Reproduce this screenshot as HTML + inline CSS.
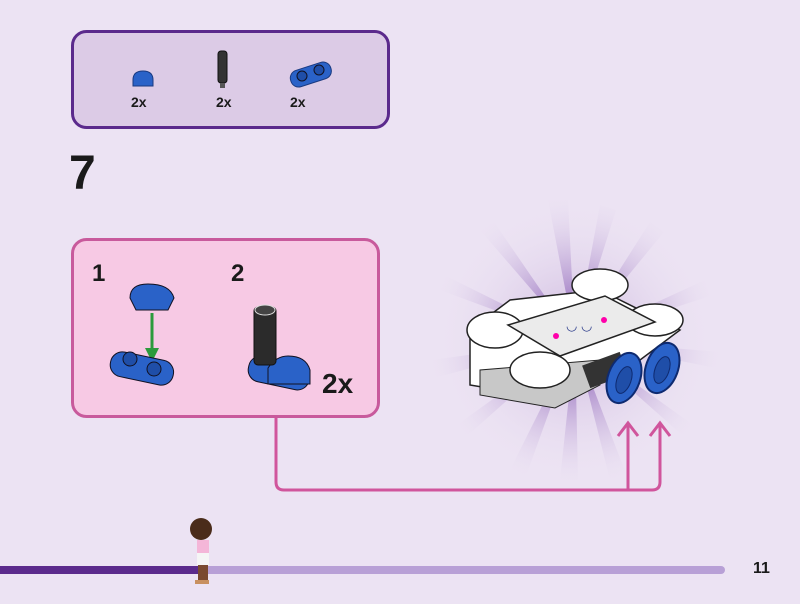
<!DOCTYPE html>
<html><head><style>
body{margin:0;width:800px;height:604px;background:#ece3f3;position:relative;overflow:hidden;font-family:"Liberation Sans",sans-serif;}
.t{position:absolute;font-weight:bold;color:#1a1a1a;}
</style></head><body>
<svg width="800" height="604" style="position:absolute;left:0;top:0">
<defs>
<radialGradient id="g" cx="0.5" cy="0.5" r="0.5">
<stop offset="0" stop-color="#b89ad0" stop-opacity="0.7"/>
<stop offset="1" stop-color="#ece3f3" stop-opacity="0"/>
</radialGradient>
<radialGradient id="r" cx="575" cy="340" r="150" gradientUnits="userSpaceOnUse">
<stop offset="0.3" stop-color="#a07cc4" stop-opacity="0.8"/>
<stop offset="1" stop-color="#ece3f3" stop-opacity="0"/>
</radialGradient>
</defs>
<!-- parts box -->
<rect x="72.5" y="31.5" width="316" height="96" rx="14" fill="#dccbe6" stroke="#5b2a8c" stroke-width="3"/>
<path d="M133 80 q0-9 10-9 q10 0 10 9 v6 h-20z" fill="#2a62c8" stroke="#1a3a80"/>
<rect x="218" y="51" width="9" height="32" rx="3" fill="#333" stroke="#111"/>
<rect x="220" y="83" width="5" height="5" fill="#555"/>
<rect x="290" y="66" width="42" height="17" rx="8" fill="#2a62c8" stroke="#1a3a80" transform="rotate(-18 311 75)"/>
<circle cx="302" cy="76" r="5" fill="#1f4ea8" stroke="#112"/><circle cx="319" cy="70" r="5" fill="#1f4ea8" stroke="#112"/>
<!-- pink box -->
<rect x="72.5" y="239.5" width="306" height="177" rx="14" fill="#f7c9e4" stroke="#c85a9c" stroke-width="3"/>
<path d="M130 298 q0-14 18-14 q22 0 26 14 l-6 12 h-32z" fill="#2a62c8" stroke="#112"/>
<line x1="152" y1="313" x2="152" y2="352" stroke="#2c9a3c" stroke-width="3"/>
<path d="M145 348 L152 362 L159 348z" fill="#2c9a3c"/>
<rect x="110" y="356" width="64" height="25" rx="12" fill="#2a62c8" stroke="#112" transform="rotate(12 142 368)"/>
<circle cx="130" cy="359" r="7" fill="#1f4ea8" stroke="#112"/><circle cx="154" cy="369" r="7" fill="#1f4ea8" stroke="#112"/>
<rect x="248" y="360" width="62" height="26" rx="12" fill="#2a62c8" stroke="#112" transform="rotate(12 279 373)"/>
<path d="M268 368 q8-12 20-12 q18 0 22 14 v14 h-42z" fill="#2a62c8" stroke="#112"/>
<rect x="254" y="307" width="22" height="58" rx="4" fill="#2b2b2b" stroke="#111"/>
<ellipse cx="265" cy="310" rx="10" ry="5" fill="#444" stroke="#ddd"/>
<!-- burst -->
<circle cx="575" cy="340" r="140" fill="url(#g)"/>
<g fill="url(#r)">
<path d="M575 340 L548 200 L568 200z"/>
<path d="M575 340 L600 205 L616 210z"/>
<path d="M575 340 L650 222 L664 232z"/>
<path d="M575 340 L705 280 L710 296z"/>
<path d="M575 340 L720 352 L716 368z"/>
<path d="M575 340 L700 430 L690 442z"/>
<path d="M575 340 L560 480 L578 480z"/>
<path d="M575 340 L510 470 L526 476z"/>
<path d="M575 340 L450 430 L458 444z"/>
<path d="M575 340 L432 360 L434 378z"/>
<path d="M575 340 L440 290 L446 276z"/>
<path d="M575 340 L480 230 L494 222z"/>
<path d="M575 340 L610 480 L626 474z"/>
</g>
<!-- model -->
<path d="M470 330 L470 385 L560 400 L640 360 L680 330 L600 290 L510 300z" fill="#fff" stroke="#222" stroke-width="1.5"/>
<path d="M480 370 L480 395 L555 408 L600 385 L600 360z" fill="#c8c8c8" stroke="#222"/>
<ellipse cx="495" cy="330" rx="28" ry="18" fill="#fff" stroke="#222" stroke-width="1.5"/>
<ellipse cx="600" cy="285" rx="28" ry="16" fill="#fff" stroke="#222" stroke-width="1.5"/>
<ellipse cx="655" cy="320" rx="28" ry="16" fill="#fff" stroke="#222" stroke-width="1.5"/>
<ellipse cx="540" cy="370" rx="30" ry="18" fill="#fff" stroke="#222" stroke-width="1.5"/>
<path d="M508 325 L605 296 L655 322 L560 356z" fill="#ebebeb" stroke="#222" stroke-width="1.5"/>
<text x="566" y="330" font-size="13" fill="#2a3a8a" font-family="Liberation Sans">◡ ◡</text>
<circle cx="556" cy="336" r="3" fill="#f0a"/><circle cx="604" cy="320" r="3" fill="#f0a"/>
<rect x="585" y="358" width="40" height="24" fill="#333" transform="rotate(-20 605 370)"/>
<ellipse cx="624" cy="378" rx="16" ry="26" fill="#2a62c8" stroke="#0e2a70" stroke-width="2" transform="rotate(20 624 378)"/>
<ellipse cx="662" cy="368" rx="16" ry="26" fill="#2a62c8" stroke="#0e2a70" stroke-width="2" transform="rotate(20 662 368)"/>
<ellipse cx="624" cy="380" rx="7" ry="14" fill="#1f4ea8" stroke="#0e2a70" transform="rotate(20 624 380)"/>
<ellipse cx="662" cy="370" rx="7" ry="14" fill="#1f4ea8" stroke="#0e2a70" transform="rotate(20 662 370)"/>
<!-- connector -->
<path d="M276 417 V482 q0 8 8 8 H652 q8 0 8-8 V424 M628 490 V424" fill="none" stroke="#d0559c" stroke-width="3"/>
<path d="M618 436 L628 423 L638 436 M650 436 L660 423 L670 436" fill="none" stroke="#d0559c" stroke-width="3"/>
<!-- bar -->
<rect x="196" y="566" width="529" height="8" rx="4" fill="#b8a0d6"/>
<rect x="0" y="566" width="200" height="8" fill="#5b2a8c"/>
<!-- figure -->
<circle cx="201" cy="529" r="11" fill="#4a2c1a"/>
<rect x="197" y="540" width="12" height="14" fill="#f4b6d8"/>
<rect x="197" y="553" width="12" height="12" fill="#f5f5f5"/>
<rect x="198" y="565" width="10" height="17" fill="#7a4a30"/>
<rect x="195" y="580" width="14" height="4" fill="#c89060"/>
</svg>
<div class="t" style="left:131px;top:94px;font-size:14px">2x</div>
<div class="t" style="left:216px;top:94px;font-size:14px">2x</div>
<div class="t" style="left:290px;top:94px;font-size:14px">2x</div>
<div class="t" style="left:69px;top:146px;font-size:48px">7</div>
<div class="t" style="left:92px;top:260px;font-size:24px">1</div>
<div class="t" style="left:231px;top:260px;font-size:24px">2</div>
<div class="t" style="left:322px;top:368px;font-size:28px">2x</div>
<div class="t" style="left:753px;top:560px;font-size:16px">11</div>
</body></html>
